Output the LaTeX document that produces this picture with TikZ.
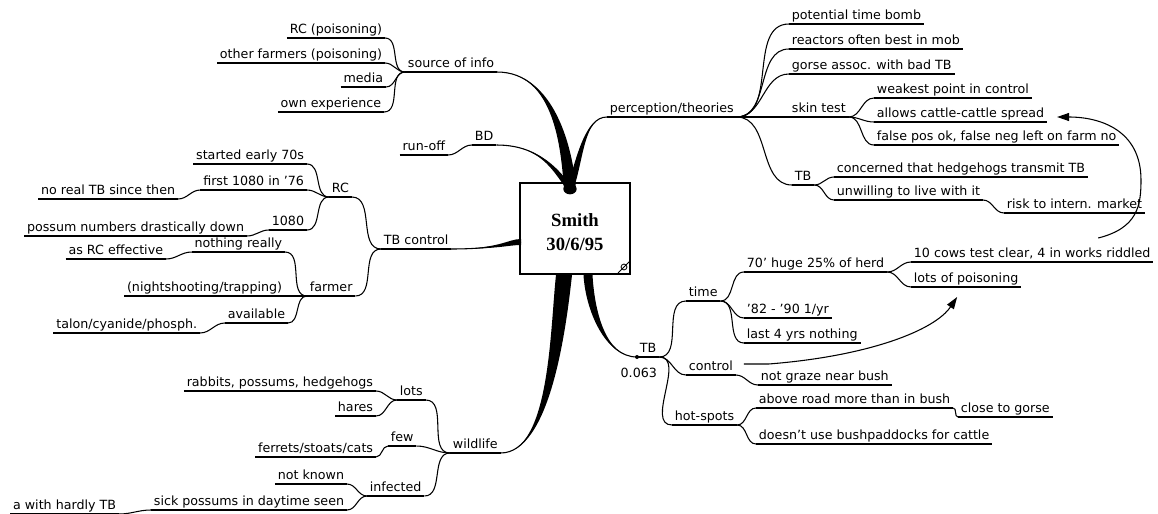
\documentclass[tikz,border=0pt]{standalone}
\usepackage{fontspec}
\setmainfont{DejaVu Sans}
\newfontfamily\boxfont{Liberation Serif}
\usetikzlibrary{positioning,calc,arrows.meta}

\newcommand\taper[5]{%
  \fill (#1) .. controls (#2) and ($(#3)-(#5)$) .. ($(#4)-(#5)$) -- ($(#4)+(#5)$) .. controls ($(#3)+(#5)$) and (#2) .. (#1) -- cycle;
  \draw[line width=0.8pt] (#1) .. controls (#2) and (#3) .. (#4);}

\begin{document}
\begin{tikzpicture}[x=0.75pt,y=-0.75pt]
    \tikzstyle{lbl} = [font=\fontsize{9.5}{11}\selectfont, inner xsep=2pt, inner ysep=1.2pt, text height=7.2pt, text depth=2pt,
        append after command={(\tikzlastnode.south west) edge[line width=0.8pt] (\tikzlastnode.south east)}]
    \tikzstyle{lblW} = [lbl, anchor=south east]
    \tikzstyle{lblE} = [lbl, anchor=south west]
    \tikzstyle{br} = [line width=0.8pt]
    \tikzstyle{rel} = [line width=0.8pt, -{Triangle[length=9pt,width=6pt]}]
    \path[fill=white, use as bounding box] (0,0) rectangle (1158,514);

    \node[draw, line width=0.8pt, minimum width=82.5pt, minimum height=68.25pt] (smith) at (575,228.5) {};
    \node[align=center, font=\boxfont\bfseries\fontsize{14}{18}\selectfont] (smithtxt) at ($(smith.center)+(0,4)$) {Smith\\30/6/95};
    \coordinate (hubN) at (570,189);
    \coordinate (hubW) at (521,242);
    \coordinate (hubWild) at (564,275);
    \coordinate (hubTB) at (588,275);
    \draw[line width=0.6pt] (624,267) circle[radius=2.2pt];
    \draw[line width=0.6pt] (618,273) -- (630,261);

    % source of info
    \node[lblE] (srcinfo) at (405,72) {source of info};
    \node[lblW] (rcpois) at (385,38) {RC (poisoning)};
    \node[lblW] (othfarm) at (385,63) {other farmers (poisoning)};
    \node[lblW] (media) at (386,87) {media};
    \node[lblW] (ownexp) at (384,112) {own experience};
    \draw[br] (srcinfo.south west) to[out=180,in=0] (rcpois.south east);
    \draw[br] (srcinfo.south west) to[out=180,in=0] (othfarm.south east);
    \draw[br] (srcinfo.south west) to[out=180,in=0] (media.south east);
    \draw[br] (srcinfo.south west) to[out=180,in=0] (ownexp.south east);
    \taper{srcinfo.south east}{555,72}{567,150}{hubN}{6,0}

    % BD
    \node[lblE] (bd) at (472,145) {BD};
    \node[lblW] (runoff) at (448,155) {run-off};
    \draw[br] (bd.south west) to[out=180,in=0] (runoff.south east);
    \taper{bd.south east}{540,145}{556,170}{hubN}{3.5,0}

    % perception/theories
    \node[lblE] (percep) at (607,117) {perception/theories};
    \taper{percep.south west}{584,117}{580,160}{hubN}{3.5,0}
    \fill (hubN) ellipse[x radius=5pt, y radius=4pt];

    % TB control
    \node[lblE] (tbctl) at (381,249) {TB control};
    \taper{tbctl.south east}{500,249}{508,242}{hubW}{0,3}
    \node[lblE] (rc) at (329,197) {RC};
    \draw[br] (rc.south east) to[out=0,in=180] (tbctl.south west);
    \node[lblW] (early) at (307,164) {started early 70s};
    \node[lblW] (first) at (307,190) {first 1080 in '76};
    \node[lblW] (noreal) at (178,199) {no real TB since then};
    \node[lblW] (n1080) at (307,230) {1080};
    \node[lblW] (possnum) at (247,236) {possum numbers drastically down};
    \draw[br] (rc.south west) to[out=180,in=0] (early.south east);
    \draw[br] (rc.south west) to[out=180,in=0] (first.south east);
    \draw[br] (rc.south west) to[out=180,in=0] (n1080.south east);
    \draw[br] (first.south west) to[out=180,in=0] (noreal.south east);
    \draw[br] (n1080.south west) to[out=180,in=0] (possnum.south east);
    \node[lblE] (farmer) at (307,296) {farmer};
    \draw[br] (farmer.south east) to[out=0,in=180] (tbctl.south west);
    \node[lblW] (nothing) at (285,252) {nothing really};
    \node[lblW] (asrc) at (166,259) {as RC effective};
    \node[lblW] (night) at (285,296) {(nightshooting/trapping)};
    \node[lblW] (avail) at (288,323) {available};
    \node[lblW] (talon) at (200,333) {talon/cyanide/phosph.};
    \draw[br] (farmer.south west) to[out=180,in=0] (nothing.south east);
    \draw[br] (farmer.south west) to[out=180,in=0] (night.south east);
    \draw[br] (farmer.south west) to[out=180,in=0] (avail.south east);
    \draw[br] (nothing.south west) to[out=180,in=0] (asrc.south east);
    \draw[br] (avail.south west) to[out=180,in=0] (talon.south east);

    % wildlife
    \node[lblE] (wild) at (450,453) {wildlife};
    \taper{wild.south east}{550,453}{558,330}{hubWild}{8,0}
    \node[lblE] (lots) at (397,400) {lots};
    \node[lblE] (few) at (388,446) {few};
    \node[lblE] (infect) at (367,496) {infected};
    \draw[br] (lots.south east) to[out=0,in=180] (wild.south west);
    \draw[br] (few.south east) to[out=0,in=180] (wild.south west);
    \draw[br] (infect.south east) to[out=0,in=180] (wild.south west);
    \node[lblW] (rabbits) at (376,391) {rabbits, possums, hedgehogs};
    \node[lblW] (hares) at (376,416) {hares};
    \node[lblW] (ferrets) at (376,457) {ferrets/stoats/cats};
    \node[lblW] (notknown) at (347,484) {not known};
    \node[lblW] (sick) at (347,510) {sick possums in daytime seen};
    \node[lblW] (hardly) at (119,514) {a with hardly TB};
    \draw[br] (lots.south west) to[out=180,in=0] (rabbits.south east);
    \draw[br] (lots.south west) to[out=180,in=0] (hares.south east);
    \draw[br] (few.south west) to[out=180,in=0] (ferrets.south east);
    \draw[br] (infect.south west) to[out=180,in=0] (notknown.south east);
    \draw[br] (infect.south west) to[out=180,in=0] (sick.south east);
    \draw[br] (sick.south west) to[out=180,in=0] (hardly.south east);

    % perception/theories children
    \node[lblE] (ptb) at (789,24) {potential time bomb};
    \node[lblE] (reactors) at (789,49) {reactors often best in mob};
    \node[lblE] (gorse) at (789,74) {gorse assoc. with bad TB};
    \node[lblE] (skin) at (789,117) {skin test};
    \node[lblE] (tbp) at (792,185) {TB};
    \draw[br] (percep.south east) to[out=0,in=180] (ptb.south west);
    \draw[br] (percep.south east) to[out=0,in=180] (reactors.south west);
    \draw[br] (percep.south east) to[out=0,in=180] (gorse.south west);
    \draw[br] (percep.south east) to[out=0,in=180] (skin.south west);
    \draw[br] (percep.south east) to[out=0,in=180] (tbp.south west);
    \node[lblE] (weakest) at (874,98) {weakest point in control};
    \node[lblE] (allows) at (874,122) {allows cattle-cattle spread};
    \node[lblE] (falsepos) at (874,145) {false pos ok, false neg left on farm no};
    \draw[br] (skin.south east) to[out=0,in=180] (weakest.south west);
    \draw[br] (skin.south east) to[out=0,in=180] (allows.south west);
    \draw[br] (skin.south east) to[out=0,in=180] (falsepos.south west);
    \node[lblE] (concern) at (834,177) {concerned that hedgehogs transmit TB};
    \node[lblE] (unwill) at (834,200) {unwilling to live with it};
    \node[lblE] (risk) at (1004,213) {risk to intern. market};
    \draw[br] (tbp.south east) to[out=0,in=180] (concern.south west);
    \draw[br] (tbp.south east) to[out=0,in=180] (unwill.south west);
    \draw[br] (unwill.south east) to[out=0,in=180] (risk.south west);

    % TB
    \node[lblE] (tbb) at (637,357) {TB};
    \node[font=\fontsize{9.5}{11}\selectfont, below=5pt of tbb, xshift=-7pt] (tbval) {0.063};
    \taper{tbb.south west}{605,357}{590,310}{hubTB}{4.5,0}
    \fill (tbb.south west) circle[radius=1.5pt];
    \node[lblE] (time) at (686,301) {time};
    \node[lblE] (control) at (686,375) {control};
    \node[lblE] (hot) at (672,425) {hot-spots};
    \draw[br] (tbb.south east) to[out=0,in=180] (time.south west);
    \draw[br] (tbb.south east) to[out=0,in=180] (control.south west);
    \draw[br] (tbb.south east) to[out=0,in=180] (hot.south west);
    \node[lblE] (huge) at (744,272) {70' huge 25\% of herd};
    \node[lblE] (eighty) at (744,318) {'82 - '90 1/yr};
    \node[lblE] (last4) at (744,343) {last 4 yrs nothing};
    \draw[br] (time.south east) to[out=0,in=180] (huge.south west);
    \draw[br] (time.south east) to[out=0,in=180] (eighty.south west);
    \draw[br] (time.south east) to[out=0,in=180] (last4.south west);
    \node[lblE] (tencows) at (911,262) {10 cows test clear, 4 in works riddled};
    \node[lblE] (lotspois) at (911,287) {lots of poisoning};
    \draw[br] (huge.south east) to[out=0,in=180] (tencows.south west);
    \draw[br] (huge.south east) to[out=0,in=180] (lotspois.south west);
    \node[lblE] (graze) at (758,385) {not graze near bush};
    \draw[br] (control.south east) to[out=0,in=180] (graze.south west);
    \node[lblE] (above) at (756,408) {above road more than in bush};
    \node[lblE] (gorseclose) at (958,417) {close to gorse};
    \node[lblE] (bushpad) at (756,444) {doesn't use bushpaddocks for cattle};
    \draw[br] (hot.south east) to[out=0,in=180] (above.south west);
    \draw[br] (hot.south east) to[out=0,in=180] (bushpad.south west);
    \draw[br] (above.south east) to[out=0,in=180] (gorseclose.south west);

    \draw[rel] ($(tencows.north)+(66,-8)$) .. controls (1138,228) and (1141,205) .. (1141,180) .. controls (1141,130) and (1100,117) .. ($(allows.east)+(10,3)$);
    \draw[rel] ($(control.east)+(8,-3)$) -- ++(25,0) .. controls (870,356) and (935,330) .. ($(lotspois.south)+(-9,10)$);
\end{tikzpicture}
\end{document}
